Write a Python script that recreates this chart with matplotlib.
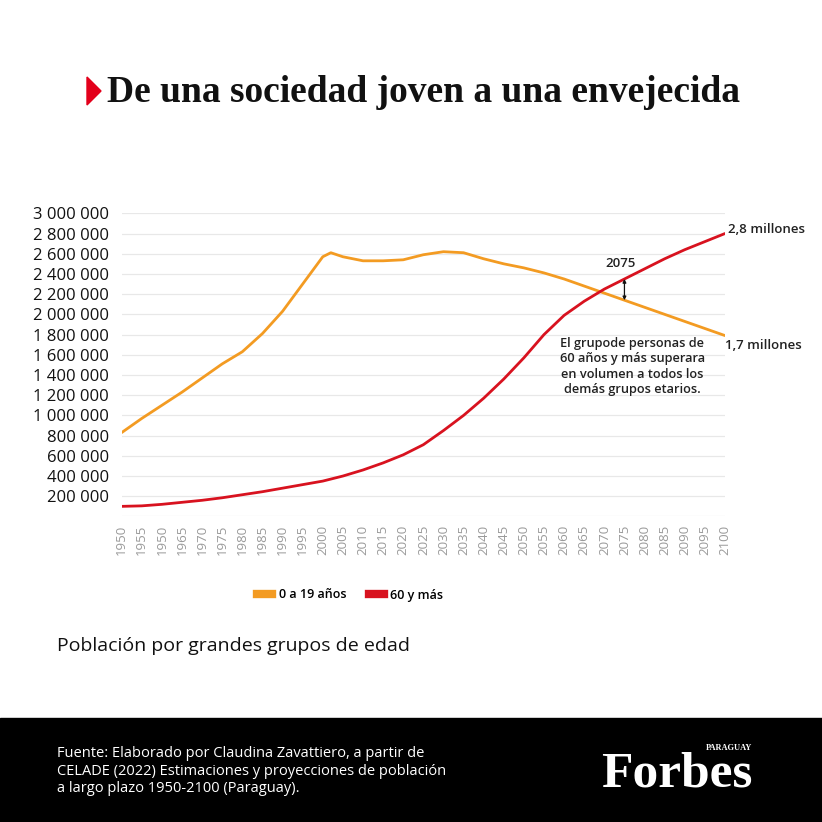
import matplotlib.pyplot as plt
from matplotlib.patches import Polygon, Rectangle
from matplotlib.lines import Line2D

# Población del Paraguay por grandes grupos de edad (millones)
years = [1950, 1955, 1960, 1965, 1970, 1975, 1980, 1985, 1990, 1995, 2000, 2002,
         2005, 2010, 2015, 2020, 2025, 2030, 2035, 2040, 2045, 2050, 2055, 2060,
         2065, 2070, 2075, 2080, 2085, 2090, 2095, 2100]
young = [0.83, 0.97, 1.10, 1.23, 1.37, 1.51, 1.63, 1.81, 2.03, 2.30, 2.57, 2.61,
         2.57, 2.53, 2.53, 2.54, 2.59, 2.62, 2.61, 2.55, 2.50, 2.46, 2.41, 2.35,
         2.28, 2.21, 2.14, 2.07, 2.00, 1.93, 1.86, 1.79]
old = [0.10, 0.105, 0.12, 0.14, 0.16, 0.185, 0.215, 0.245, 0.28, 0.315, 0.35, 0.37,
       0.40, 0.46, 0.53, 0.61, 0.71, 0.85, 1.00, 1.17, 1.36, 1.57, 1.80, 1.99,
       2.13, 2.25, 2.35, 2.45, 2.55, 2.64, 2.72, 2.80]

tick_years = list(range(1950, 2101, 5))
# la fuente original repite "1950" en la tercera etiqueta
tick_labels = [str(y) for y in tick_years]
tick_labels[2] = '1950'
y_ticks = list(range(0, 3000001, 200000))
y_labels = [''] + [f'{v:,}'.replace(',', ' ') for v in y_ticks[1:]]

ORANGE = '#F39B22'
RED = '#D8121F'
SANS = ['Open Sans', 'DejaVu Sans']
SERIF = ['Liberation Serif', 'DejaVu Serif']

plt.rcParams['font.family'] = SANS

fig = plt.figure(figsize=(8.22, 8.22), dpi=100)
fig.patch.set_facecolor('white')

ax = fig.add_axes([0.148, 0.3717, 0.734, 0.3688])

ax.plot(years, [v * 1e6 for v in young], color=ORANGE, lw=2.0, solid_capstyle='round')
ax.plot(years, [v * 1e6 for v in old], color=RED, lw=2.0, solid_capstyle='round')

ax.set_xlim(1950, 2100)
ax.set_ylim(0, 3000000)
ax.set_xticks(tick_years)
ax.set_xticklabels(tick_labels, rotation=90, color='#9a9a9a', fontsize=9.5)
ax.set_yticks(y_ticks)
ax.set_yticklabels(y_labels, color='#111111', fontsize=12)
ax.tick_params(length=0, axis='y', pad=9)
ax.tick_params(length=0, axis='x', pad=6)
ax.grid(axis='y', color='#e8e8e8', lw=0.9)
ax.set_axisbelow(True)
for s in ax.spines.values():
    s.set_visible(False)

# anotaciones
i75 = years.index(2075)
ax.annotate('', xy=(2075, old[i75] * 1e6), xytext=(2075, young[i75] * 1e6),
            arrowprops=dict(arrowstyle='<|-|>', lw=0.9, color='#111111',
                            mutation_scale=5, shrinkA=0, shrinkB=0))
ax.text(2074, 2.50e6, '2075', ha='center', va='center', fontsize=9.5,
        fontweight='semibold', color='#222222')
ax.annotate('2,8 millones', xy=(2100, old[-1] * 1e6), xytext=(2, 3),
            textcoords='offset points', ha='left', va='center', fontsize=9.5,
            fontweight='semibold', color='#222222', annotation_clip=False)
ax.annotate('1,7 millones', xy=(2100, young[-1] * 1e6), xytext=(0, -7),
            textcoords='offset points', ha='left', va='center', fontsize=9.5,
            fontweight='semibold', color='#222222', annotation_clip=False)
ax.text(2077, 1.78e6,
        'El grupode personas de\n60 años y más superara\nen volumen a todos los\ndemás grupos etarios.',
        ha='center', va='top', fontsize=9.2, fontweight='semibold', color='#222222',
        linespacing=1.25)

# leyenda
handles = [Line2D([], [], color=ORANGE, lw=6), Line2D([], [], color=RED, lw=6)]
fig.legend(handles, ['0 a 19 años', '60 y más'], loc='center',
           bbox_to_anchor=(350 / 822, 1 - 595 / 822), ncol=2, frameon=False,
           prop={'size': 9, 'weight': 'semibold'}, handlelength=1.2,
           handletextpad=0.5, columnspacing=1.8)

# título
fig.patches.append(Polygon([[87 / 822, 1 - 77 / 822], [87 / 822, 1 - 105 / 822],
                            [101 / 822, 1 - 91 / 822]], closed=True,
                           transform=fig.transFigure, color='#E3001B'))
fig.text(107 / 822, 1 - 92 / 822, 'De una sociedad joven a una envejecida',
         family=SERIF, fontweight='bold',
         fontsize=27, ha='left', va='center', color='#111111')

fig.text(57 / 822, 1 - 646 / 822, 'Población por grandes grupos de edad',
         fontsize=14, ha='left', va='center', color='#111111')

# pie negro
fig.patches.append(Rectangle((0, 0), 1, 1 - 718 / 822, transform=fig.transFigure,
                             color='black', zorder=0))
fig.text(57 / 822, 1 - 771 / 822,
         'Fuente: Elaborado por Claudina Zavattiero, a partir de\n'
         'CELADE (2022) Estimaciones y proyecciones de población\n'
         'a largo plazo 1950-2100 (Paraguay).',
         fontsize=10.5, ha='left', va='center', color='white', linespacing=1.25)
fig.text(752 / 822, 1 - 774 / 822, 'Forbes', family=SERIF,
         fontweight='bold', fontsize=37, ha='right', va='center', color='white')
fig.text(752 / 822, 1 - 748 / 822, 'PARAGUAY', family=SERIF,
         fontweight='bold', fontsize=6, ha='right', va='center', color='white')

fig.savefig('out.png', dpi=100, facecolor='white')
